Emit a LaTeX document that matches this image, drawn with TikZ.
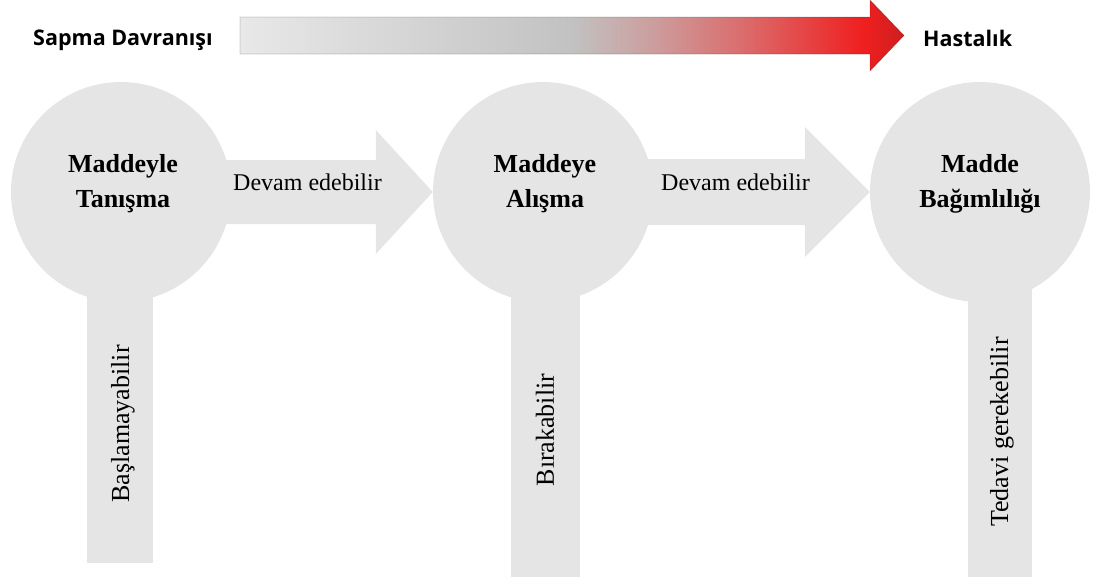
\documentclass[tikz,border=0pt]{standalone}
\usepackage{fontspec}
\setmainfont{Liberation Serif}
\newfontfamily\uifont{Open Sans}
\usetikzlibrary{positioning,calc}

\definecolor{stagegray}{RGB}{229,229,229}
\pgfdeclarehorizontalshading{severity}{100bp}{%
  rgb(0bp)=(0.91,0.91,0.91); rgb(25bp)=(0.91,0.91,0.91);
  rgb(50bp)=(0.76,0.76,0.76); rgb(56bp)=(0.80,0.62,0.62);
  rgb(63bp)=(0.86,0.42,0.42); rgb(72bp)=(0.94,0.12,0.12);
  rgb(75bp)=(0.80,0.12,0.12); rgb(100bp)=(0.80,0.12,0.12)}

\begin{document}
\begin{tikzpicture}[x=1pt, y=-1pt,
  stage/.style={circle, fill=stagegray, minimum size=220pt, inner sep=0pt},
  stagetext/.style={font=\fontsize{26}{35}\selectfont\bfseries, align=center},
  stembox/.style={fill=stagegray},
  flowtext/.style={font=\fontsize{24}{28}\selectfont, anchor=base west, inner sep=0pt},
  stemtext/.style={font=\fontsize{26}{30}\selectfont, rotate=90, inner sep=0pt},
  endlabel/.style={font=\uifont\bfseries\fontsize{21.5}{26}\selectfont,
                   anchor=base west, inner sep=0pt},
]
  \useasboundingbox (0,0) rectangle (1097,579);

  % severity scale
  \node[endlabel] (deviance) at (33,45) {Sapma Davranışı};
  \node[endlabel] (illness) at (923,46) {Hastalık};
  \coordinate (bartail) at (240,35.5);
  \coordinate (bartip) at (904,35.5);
  \shade[shading=severity, draw=black, draw opacity=0.18, line width=0.8pt]
    ($(bartail)+(0,-18.5)$) -- ($(bartip)+(-34,-18.5)$) -- ($(bartip)+(-34,-35.5)$)
    -- (bartip) -- ($(bartip)+(-34,35.5)$) -- ($(bartip)+(-34,18.5)$)
    -- ($(bartail)+(0,18.5)$) -- cycle;

  % stages
  \node[stage] (meet) at (121,192) {};
  \node[stage] (habit) at (543,192) {};
  \node[stage] (addict) at (980,192) {};

  \fill[stembox] ($(meet.center)+(-34,0)$) rectangle ($(meet.center)+(32,371)$);
  \fill[stembox] ($(habit.center)+(-32,0)$) rectangle ($(habit.center)+(37,385)$);
  \fill[stembox] ($(addict.center)+(-12,0)$) rectangle ($(addict.center)+(52,385)$);

  \fill[stembox] ($(meet.center)+(0,-32)$) -- ($(habit.west)+(-57,-32)$)
    -- ($(habit.west)+(-57,-62)$) -- (habit.west) -- ($(habit.west)+(-57,62)$)
    -- ($(habit.west)+(-57,32)$) -- ($(meet.center)+(0,32)$) -- cycle;
  \fill[stembox] ($(habit.center)+(0,-33)$) -- ($(addict.west)+(-65,-33)$)
    -- ($(addict.west)+(-65,-65)$) -- (addict.west) -- ($(addict.west)+(-65,65)$)
    -- ($(addict.west)+(-65,33)$) -- ($(habit.center)+(0,33)$) -- cycle;

  \node[stagetext] (meettext) at (123,184) {Maddeyle\\Tanışma};
  \node[stagetext] (habittext) at (545,184) {Maddeye\\Alışma};
  \node[stagetext] (addicttext) at (980,184) {Madde\\Bağımlılığı};

  \node[flowtext] (go1) at (233,190) {Devam edebilir};
  \node[flowtext] (go2) at (661,190) {Devam edebilir};

  \node[stemtext] (nostart) at (123,424) {Başlamayabilir};
  \node[stemtext] (quit) at (545,430) {Bırakabilir};
  \node[stemtext] (treat) at (1002,432) {Tedavi gerekebilir};
\end{tikzpicture}
\end{document}
